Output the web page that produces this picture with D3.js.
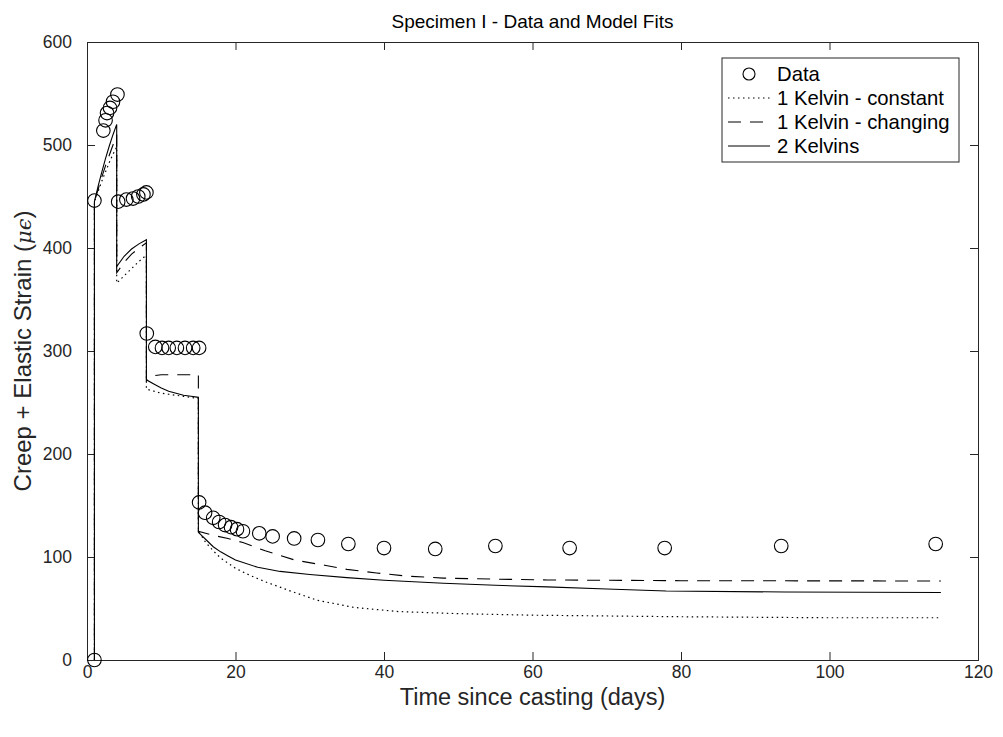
<!DOCTYPE html>
<html><head><meta charset="utf-8">
<script src="https://cdn.jsdelivr.net/npm/d3@7"></script>
<style>body{margin:0;background:#fff;} text{font-family:"Liberation Sans",Arial,sans-serif;}</style>
</head><body><svg id="c" width="1003" height="737"></svg>
<script>
// ---- data ----
const dataDays = [1,1,2.2,2.5,2.7,3.1,3.5,4.1,4.2,5.3,6.2,6.9,7.6,8.0,8.05,9.2,10.1,11.0,12.1,13.2,14.3,15.1,15.1,15.9,17,17.8,18.6,19.4,20.2,21,23.2,25,27.9,31.1,35.2,40,46.9,55,65,77.8,93.5,114.3];
const dataStrain = [0,446,514,524,531,536,542,549,445,447,448,450,452,454,317,304,303,303,303,303,303,303,153,143,138,134,131,129,127,125,123,120,118,116.5,112.6,108.7,107.8,110.7,108.7,108.7,110.7,112.6];

const constDays = [1,1,1.5,2,2.5,3,3.5,4,4,5,6,7,8,8,9,10,11,12,13,14,15,15,16,17,18,19,20,22,24,27,31,36,42,50,60,80,100,115];
const constStrain = [0,445,455,465,474,483,491,498,366,373,380,387,393,263,261,259,258,257,256,255,254,125,114,106,99,94,89,82,76,68,58,51,47,45,43.5,42,41,41];

const changeDays = [1,1,1.5,2,2.5,3,3.5,4,4,5,6,7,8,8,9,10,12,15,15,17,19,21,24,28,32,35,39,43,48,55,62,80,115];
const changeStrain = [0,445,457,469,480,490,500,510,376,386,394,400,405,271,276,277,277,277,125,121,118,114,106,97,92,88,84.5,81.5,79.5,78.5,77.7,77,76.7];

const twoDays = [1,1,1.5,2,2.5,3,3.5,4,4,5,6,7,8,8,9,10,11,12,13,14,15,15,16,17,18,19,20,23,26,30,35,40,48,55,62,70,78,94,115];
const twoStrain = [0,445,460,474,487,499,510,520,382,392,399,404,408,272,268,264,261,259,257,256,255,124,117,110,105,101,97,90,86,83,80,77.5,74.5,72.5,71,69,67,66,65.5];

const xTicks = [0,20,40,60,80,100,120];
const yTicks = [0,100,200,300,400,500,600];
const legendLabels = ["Data","1 Kelvin - constant","1 Kelvin - changing","2 Kelvins"];
const titleText = "Specimen I - Data and Model Fits";
const xLabelText = "Time since casting (days)";

// ---- layout ----
const L=87, R=978, T=42, B=660;
const svg = d3.select("#c");
const x = d3.scaleLinear().domain([0,120]).range([L,R]);
const y = d3.scaleLinear().domain([0,600]).range([B,T]);
const axCol = "#262626";

svg.append("rect").attr("x",0).attr("y",0).attr("width",1003).attr("height",737).attr("fill","#fff");

// axes
const gx = svg.append("g").attr("transform",`translate(0,${B})`)
  .call(d3.axisBottom(x).tickValues(xTicks).tickSize(-8).tickPadding(6).tickFormat(d3.format("d")));
const gxt = svg.append("g").attr("transform",`translate(0,${T})`)
  .call(d3.axisTop(x).tickValues(xTicks).tickSize(-8).tickFormat(""));
const gy = svg.append("g").attr("transform",`translate(${L},0)`)
  .call(d3.axisLeft(y).tickValues(yTicks).tickSize(-8).tickPadding(15).tickFormat(d3.format("d")));
const gyr = svg.append("g").attr("transform",`translate(${R},0)`)
  .call(d3.axisRight(y).tickValues(yTicks).tickSize(-8).tickFormat(""));
[gx,gxt,gy,gyr].forEach(g=>{
  g.selectAll("path").attr("stroke",axCol).attr("stroke-width",1);
  g.selectAll("line").attr("stroke",axCol).attr("stroke-width",1);
  g.selectAll("text").attr("fill",axCol).attr("font-size",17.5).attr("font-family","Liberation Sans, Arial, sans-serif");
});

function series(days, vals){ return days.map((d,i)=>[d, vals[i]]); }
const line = d3.line().x(d=>x(d[0])).y(d=>y(d[1]));

const plot = svg.append("g");
plot.append("path").datum(series(constDays,constStrain)).attr("d",line)
  .attr("fill","none").attr("stroke","#000").attr("stroke-width",1.2).attr("stroke-dasharray","1.5,3.5");
plot.append("path").datum(series(changeDays,changeStrain)).attr("d",line)
  .attr("fill","none").attr("stroke","#000").attr("stroke-width",1.1).attr("stroke-dasharray","13,9");
plot.append("path").datum(series(twoDays,twoStrain)).attr("d",line)
  .attr("fill","none").attr("stroke","#000").attr("stroke-width",1.1);

plot.selectAll("circle.d").data(series(dataDays,dataStrain)).enter().append("circle")
  .attr("class","d").attr("cx",d=>x(d[0])).attr("cy",d=>y(d[1])).attr("r",6.8)
  .attr("fill","none").attr("stroke","#000").attr("stroke-width",1.1);

// title and labels
svg.append("text").attr("x",(L+R)/2).attr("y",28).attr("text-anchor","middle")
  .attr("font-size",19).attr("fill","#000").text(titleText);
svg.append("text").attr("x",(L+R)/2).attr("y",705).attr("text-anchor","middle")
  .attr("font-size",23.5).attr("fill",axCol).text(xLabelText);
const yl = svg.append("text").attr("transform",`translate(31,${(T+B)/2}) rotate(-90)`)
  .attr("text-anchor","middle").attr("font-size",24).attr("fill",axCol);
yl.append("tspan").text("Creep + Elastic Strain (");
yl.append("tspan").attr("font-style","italic").attr("font-family","DejaVu Serif, serif").attr("font-size",21).text("μϵ");
yl.append("tspan").text(")");

// legend
const lg = svg.append("g");
const lx0=722, ly0=58, lw=237, lh=104;
lg.append("rect").attr("x",lx0).attr("y",ly0).attr("width",lw).attr("height",lh)
  .attr("fill","#fff").attr("stroke",axCol).attr("stroke-width",1);
const rowY = [74,98,122,146];
const styles = [null,"1.5,3.5","13,9",null];
legendLabels.forEach((lab,i)=>{
  const yy = rowY[i];
  if(i===0){
    lg.append("circle").attr("cx",749).attr("cy",yy).attr("r",6).attr("fill","none").attr("stroke","#000").attr("stroke-width",1.1);
  } else {
    const ln = lg.append("line").attr("x1",728).attr("x2",770).attr("y1",yy).attr("y2",yy)
      .attr("stroke","#000").attr("stroke-width",1.1);
    if(styles[i]) ln.attr("stroke-dasharray",styles[i]);
  }
  lg.append("text").attr("x",777).attr("y",yy+7).attr("font-size",20.3).attr("fill","#000").text(lab);
});
</script></body></html>
